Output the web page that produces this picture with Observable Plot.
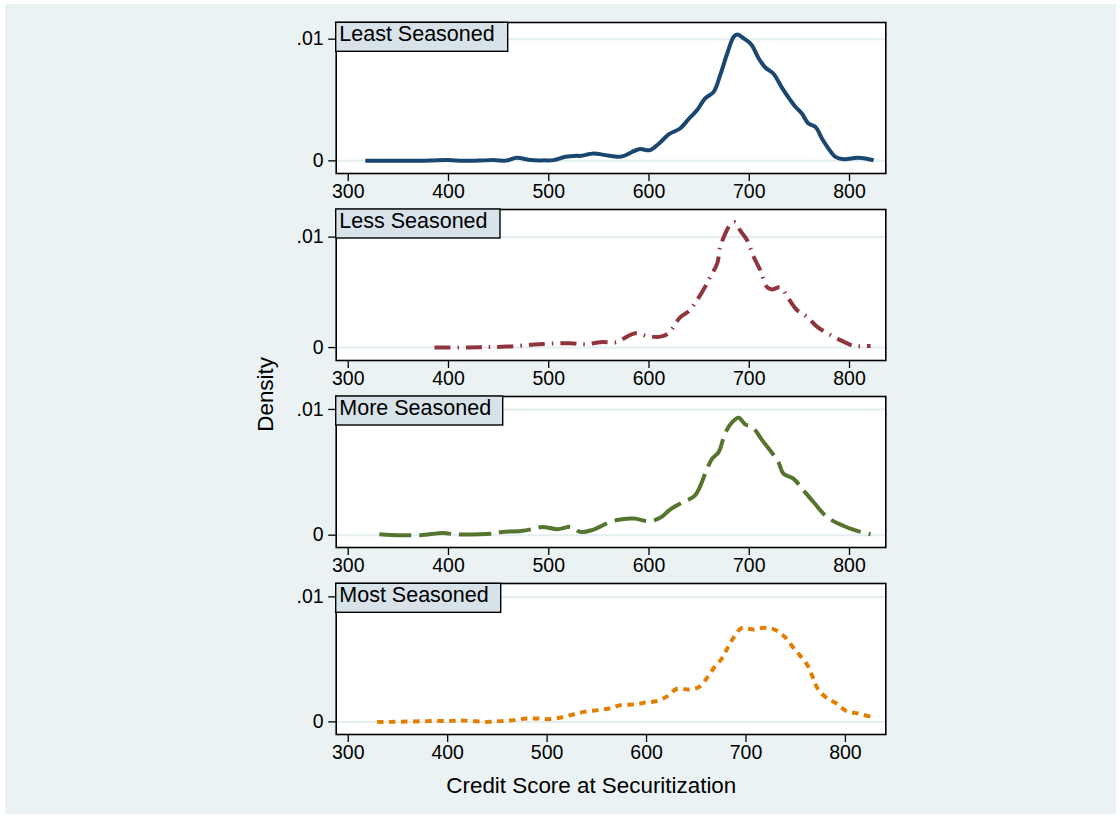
<!DOCTYPE html>
<html>
<head>
<meta charset="utf-8">
<script src="https://cdn.jsdelivr.net/npm/d3@7"></script>
<script src="https://cdn.jsdelivr.net/npm/@observablehq/plot@0.6"></script>
<style>
  html, body { margin: 0; padding: 0; background: #ffffff; }
  #bg { position: absolute; left: 5px; top: 4px; width: 1111px; height: 810px; background: #eaf2f3; }
  .panel { position: absolute; left: 0; }
  #overlay { position: absolute; left: 0; top: 0; }
</style>
</head>
<body>
<div id="bg"></div>
<div id="panels"></div>
<script>
// ---- Data ----
const panelNames = ["Least Seasoned", "Less Seasoned", "More Seasoned", "Most Seasoned"];
const panelColors = ["#1a476f", "#90353b", "#55752f", "#e37e00"];
const panelDashes = [null, "16,7,1.5,7", "32,8", "6.5,5.5"];
const xTicks = [300, 400, 500, 600, 700, 800];
const yTicks = [0, 0.01];
const yTickLabels = ["0", ".01"];
const xTitle = "Credit Score at Securitization";
const yTitle = "Density";

const leastScore = [317, 332, 350, 365, 382, 399, 415, 430, 445, 458, 468, 482, 495, 505, 517, 528, 532, 545, 556.5, 570, 575, 590, 601, 610, 620, 631, 640, 648, 656, 664.5, 671, 678, 684.5, 688, 694.5, 702, 709.5, 716, 724, 733, 741, 746, 752.5, 759, 766, 772.5, 779, 786, 794, 807.5, 816, 824];
const leastDensity = [0, 0, 0, 0, 0.00002, 0.00006, 0, 0.00002, 0.00006, 0.00002, 0.00025, 0.00006, 0.00004, 0.00006, 0.00033, 0.00041, 0.00041, 0.00061, 0.00047, 0.00033, 0.00041, 0.00096, 0.00088, 0.00143, 0.00219, 0.00266, 0.00348, 0.00417, 0.00513, 0.00567, 0.00704, 0.00882, 0.01019, 0.01039, 0.01006, 0.00956, 0.00841, 0.00767, 0.00718, 0.00595, 0.00499, 0.00444, 0.00389, 0.00307, 0.00279, 0.00184, 0.00102, 0.00033, 0.00014, 0.00025, 0.0002, 0.00005];

const lessScore = [386, 410, 432, 458, 490, 521, 537, 551.5, 568, 578, 586.5, 598, 611.5, 619.5, 631, 640, 648, 656, 661, 668, 671, 676, 681, 686, 691, 698, 704.5, 711, 717.5, 722.5, 731, 739, 747.5, 757.5, 767.5, 781, 794, 804, 812, 821];
const lessDensity = [0, 0, 0.00004, 0.00009, 0.0003, 0.0004, 0.0003, 0.00049, 0.00049, 0.00099, 0.0013, 0.00105, 0.00099, 0.0013, 0.00274, 0.00331, 0.0043, 0.0055, 0.0064, 0.0076, 0.0091, 0.0103, 0.0111, 0.01135, 0.0106, 0.0097, 0.0082, 0.007, 0.0055, 0.00526, 0.00544, 0.00445, 0.0034, 0.0028, 0.0019, 0.00114, 0.00054, 0.00015, 0.00012, 0.00015];

const moreScore = [331, 352, 372, 395, 404, 414, 444, 453.5, 472, 483.5, 493.5, 508.5, 523, 531.5, 543, 561.5, 571.5, 585, 600, 611.5, 621, 634.5, 646, 658, 663, 669.5, 676, 683, 689.5, 696, 703, 713, 729, 734, 744, 754, 764, 777.5, 792.5, 807.5, 821];
const moreDensity = [0.00008, 0, 0, 0.00018, 0.00008, 0.00006, 0.00013, 0.00026, 0.00034, 0.00048, 0.00066, 0.00048, 0.00066, 0.00026, 0.0004, 0.00106, 0.00125, 0.00132, 0.00111, 0.0014, 0.00204, 0.00265, 0.00317, 0.00529, 0.00609, 0.00661, 0.00812, 0.00899, 0.00934, 0.00881, 0.0086, 0.00754, 0.00582, 0.0049, 0.0045, 0.00357, 0.00264, 0.00145, 0.00079, 0.00034, 0.00008];

const mostScore = [329, 343, 380, 403, 416, 440, 453, 467, 479, 490, 502, 514, 526, 537, 551, 562, 574, 588, 599, 611, 621, 631, 642, 653, 661.5, 668, 676.5, 682, 688, 696, 707, 718, 728.5, 739, 747, 754, 762, 767, 772, 781, 791, 801, 812.5, 826];
const mostDensity = [0, 0, 0.00006, 0.00008, 0.0001, 0, 0.00006, 0.00014, 0.00027, 0.00027, 0.00022, 0.00035, 0.00059, 0.0008, 0.00094, 0.00107, 0.00134, 0.00139, 0.00155, 0.00168, 0.00206, 0.00267, 0.00259, 0.0028, 0.0036, 0.00435, 0.00515, 0.006, 0.0068, 0.00752, 0.00739, 0.00752, 0.00739, 0.0068, 0.006, 0.00534, 0.00451, 0.0036, 0.00267, 0.00192, 0.00147, 0.00086, 0.00067, 0.0004];

const scores = [leastScore, lessScore, moreScore, mostScore];
const densities = [leastDensity, lessDensity, moreDensity, mostDensity];

// ---- Layout ----
const frameTops = [22.3, 209, 396, 583.3];
const frameH = 151;
const frameLeft = 335.7, frameRight = 885.3;
const xDomains = [[288, 836.2], [288, 836.2], [288, 836.2], [287.9, 840.6]];
const yDomains = [[-0.00104, 0.01137], [-0.00117, 0.0125], [-0.00098, 0.01103], [-0.00101, 0.01107]];
const boxWidths = [172, 164.3, 167, 165];
const mt = 10, mb = 34;
const font = "'Liberation Sans', Arial, Helvetica, sans-serif";

const container = document.getElementById("panels");
for (let i = 0; i < 4; i++) {
  const data = scores[i].map((s, j) => ({score: s, density: densities[i][j]}));
  const chart = Plot.plot({
    width: 1120,
    height: frameH + mt + mb,
    marginLeft: frameLeft,
    marginRight: 1120 - frameRight,
    marginTop: mt,
    marginBottom: mb,
    style: {background: "transparent", fontFamily: font, fontSize: "19.5px", color: "#000", overflow: "visible"},
    x: {domain: xDomains[i], label: null},
    y: {domain: yDomains[i], label: null},
    marks: [
      Plot.frame({fill: "white", stroke: null}),
      Plot.ruleY(yTicks, {stroke: "#e4eef0", strokeWidth: 2}),
      Plot.line(data, {x: "score", y: "density", stroke: panelColors[i], strokeWidth: 4,
        strokeDasharray: panelDashes[i] || undefined, curve: "catmull-rom",
        strokeLinecap: "butt", strokeLinejoin: "round"}),
      Plot.frame({stroke: "#000", strokeWidth: 1.6}),
      Plot.axisX(xTicks, {tickSize: 8, tickPadding: 3, stroke: "#000", strokeWidth: 1.3, label: null, fontSize: 19.5}),
      Plot.axisY(yTicks, {tickSize: 7.5, tickPadding: 5, stroke: "#000", strokeWidth: 1.3, label: null, fontSize: 19.5,
        tickFormat: d => yTickLabels[yTicks.indexOf(d)]})
    ]
  });
  chart.classList.add("panel");
  chart.style.top = (frameTops[i] - mt) + "px";
  container.appendChild(chart);
}

// ---- Overlay: panel label boxes and axis titles ----
const ns = "http://www.w3.org/2000/svg";
const svg = document.createElementNS(ns, "svg");
svg.setAttribute("id", "overlay");
svg.setAttribute("width", 1120);
svg.setAttribute("height", 818);
svg.setAttribute("font-family", font);
for (let i = 0; i < 4; i++) {
  const r = document.createElementNS(ns, "rect");
  r.setAttribute("x", frameLeft);
  r.setAttribute("y", frameTops[i]);
  r.setAttribute("width", boxWidths[i]);
  r.setAttribute("height", 29);
  r.setAttribute("fill", "#d7e3e9");
  r.setAttribute("stroke", "#000");
  r.setAttribute("stroke-width", 1.4);
  svg.appendChild(r);
  const t = document.createElementNS(ns, "text");
  t.setAttribute("x", frameLeft + 3.6);
  t.setAttribute("y", frameTops[i] + 18.9);
  t.setAttribute("font-size", "21.5px");
  t.setAttribute("fill", "#000");
  t.textContent = panelNames[i];
  svg.appendChild(t);
}
const xt = document.createElementNS(ns, "text");
xt.setAttribute("x", 591.3);
xt.setAttribute("y", 793.3);
xt.setAttribute("text-anchor", "middle");
xt.setAttribute("font-size", "22.4px");
xt.textContent = xTitle;
svg.appendChild(xt);
const yt = document.createElementNS(ns, "text");
yt.setAttribute("transform", "translate(273.3,394.4) rotate(-90)");
yt.setAttribute("text-anchor", "middle");
yt.setAttribute("font-size", "22.4px");
yt.textContent = yTitle;
svg.appendChild(yt);
document.body.appendChild(svg);
</script>
</body>
</html>
